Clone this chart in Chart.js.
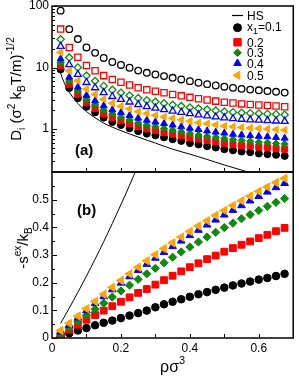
<!DOCTYPE html>
<html><head><meta charset="utf-8">
<script src="https://cdn.jsdelivr.net/npm/chart.js@4.4.1/dist/chart.umd.min.js"></script>
<style>
html,body{margin:0;padding:0;background:#fff;}
#wrap{position:relative;width:299px;height:377px;background:#fff;}
canvas{position:absolute;left:0;top:0;}
</style></head><body>
<div id="wrap"><canvas id="ca" width="299" height="377"></canvas><canvas id="cb" width="299" height="377"></canvas></div>
<script>
// ---------- data ----------
const rho = [0.025,0.05,0.075,0.1,0.125,0.15,0.175,0.2,0.225,0.25,0.275,0.3,0.325,0.35,0.375,0.4,0.425,0.45,0.475,0.5,0.525,0.55,0.575,0.6,0.625,0.65,0.675];

// panel (a): diffusion coefficients, open symbols (second species)
const dOpen01 = [84,42,29,21.2,17.3,14.3,12.3,11.0,9.9,8.9,8.2,7.7,7.25,6.8,6.4,6.0,5.65,5.36,5.1,4.87,4.67,4.5,4.37,4.26,4.14,4.03,3.91];
const dOpen02 = [42.1,21.2,14.7,10.8,8.87,7.38,6.38,5.74,5.20,4.70,4.35,4.11,3.89,3.65,3.46,3.27,3.10,2.96,2.84,2.73,2.64,2.56,2.50,2.46,2.41,2.36,2.30];
const dOpen03 = [28.8,14.5,10.0,7.38,6.04,5.02,4.33,3.89,3.51,3.18,2.94,2.77,2.62,2.47,2.36,2.24,2.15,2.07,1.99,1.93,1.88,1.84,1.81,1.79,1.76,1.74,1.71];
const dOpen04 = [22.1,11.1,7.74,5.70,4.69,3.90,3.38,3.04,2.75,2.49,2.31,2.19,2.07,1.96,1.87,1.78,1.70,1.63,1.57,1.52,1.47,1.44,1.41,1.39,1.37,1.35,1.33];
// panel (a): filled symbols (species 1)
const dFill01 = [9.3,4.63,3.17,2.30,1.86,1.53,1.30,1.16,1.03,0.92,0.84,0.79,0.73,0.68,0.64,0.59,0.56,0.525,0.50,0.47,0.45,0.43,0.42,0.40,0.39,0.38,0.365];
const dFill02 = [10.7,5.33,3.65,2.67,2.16,1.79,1.54,1.36,1.23,1.10,1.01,0.95,0.88,0.83,0.78,0.73,0.69,0.65,0.62,0.59,0.56,0.54,0.53,0.51,0.50,0.48,0.47];
const dFill03 = [12.0,6.0,4.15,3.01,2.46,2.03,1.75,1.56,1.41,1.25,1.16,1.09,1.02,0.96,0.90,0.85,0.80,0.76,0.73,0.70,0.67,0.65,0.63,0.61,0.60,0.58,0.57];
const dFill04 = [13.8,6.93,4.79,3.52,2.87,2.39,2.05,1.85,1.66,1.50,1.39,1.30,1.23,1.16,1.09,1.03,0.98,0.93,0.89,0.86,0.82,0.80,0.78,0.76,0.75,0.73,0.71];
const dFill05 = [17.6,8.82,6.09,4.47,3.67,3.05,2.62,2.35,2.13,1.92,1.78,1.67,1.58,1.49,1.41,1.34,1.27,1.22,1.17,1.12,1.09,1.06,1.04,1.02,1.00,0.98,0.96];
// panel (a): hard-sphere curve
const hsRhoA = [0.02,0.03,0.04,0.05,0.075,0.1,0.15,0.2,0.25,0.3,0.35,0.4,0.45,0.5,0.55,0.6,0.65,0.7];
const hsDA   = [10,6.7,5.0,3.95,2.6,1.92,1.25,0.94,0.74,0.59,0.47,0.39,0.32,0.26,0.215,0.175,0.14,0.115];

// panel (b): excess entropy
const sFill01 = [0.006,0.017,0.027,0.036,0.046,0.055,0.063,0.072,0.081,0.090,0.099,0.111,0.122,0.131,0.140,0.149,0.158,0.166,0.174,0.182,0.190,0.197,0.204,0.211,0.217,0.224,0.232];
const sFill02 = [0.011,0.030,0.048,0.066,0.083,0.099,0.115,0.131,0.147,0.163,0.177,0.193,0.209,0.225,0.241,0.256,0.270,0.285,0.298,0.312,0.325,0.337,0.349,0.361,0.373,0.386,0.398];
const sFill03 = [0.015,0.037,0.060,0.082,0.104,0.126,0.148,0.170,0.191,0.212,0.232,0.252,0.272,0.292,0.311,0.329,0.347,0.365,0.382,0.399,0.415,0.431,0.446,0.461,0.476,0.490,0.504];
const sFill04 = [0.022,0.047,0.073,0.099,0.125,0.150,0.175,0.199,0.222,0.245,0.267,0.289,0.310,0.331,0.351,0.371,0.390,0.409,0.427,0.445,0.462,0.479,0.496,0.512,0.528,0.544,0.559];
const sFill05 = [0.027,0.053,0.079,0.106,0.132,0.158,0.183,0.208,0.232,0.256,0.279,0.301,0.323,0.344,0.365,0.385,0.405,0.424,0.443,0.461,0.479,0.496,0.513,0.530,0.546,0.562,0.577];
const hsRhoB = [0.025,0.05,0.075,0.1,0.125,0.15,0.175,0.2,0.225,0.25];
const hsSB   = [0.053,0.108,0.165,0.224,0.285,0.348,0.414,0.482,0.552,0.625];

// axes / labels
const yTicksA = [1,10,100];
const yMinorA = [0.2,0.3,0.4,0.5,0.6,0.7,0.8,0.9,2,3,4,5,6,7,8,9,20,30,40,50,60,70,80,90];
const yTicksB = [0,0.1,0.2,0.3,0.4,0.5];
const yMinorB = [0.05,0.15,0.25,0.35,0.45,0.55];
const xTicksB = [0,0.2,0.4,0.6];
const xTickLabels = ['0','0.2','0.4','0.6'];
const xSmallTicks = [0.1,0.2,0.3,0.4,0.5,0.6];
const legendLabels = ['0.1','0.2','0.3','0.4','0.5'];

const BLACK='#000000', RED='#ff0000', GREEN='#0b8a0b', BLUE='#0000ff', ORANGE='#ffa500';
const FONT = '"Liberation Sans", Arial, Helvetica, sans-serif';

// ---------- helpers ----------
function pts(xs, ys){ return xs.map((x,i)=>({x:x, y:ys[i]})); }
function drawRich(ctx, parts, x, y, align){
  let w = 0;
  parts.forEach(p=>{ ctx.font=(p.bold?'bold ':'')+p.size+'px '+FONT; p.w=ctx.measureText(p.t).width; w+=p.w; });
  let cx = align==='center' ? x-w/2 : (align==='right' ? x-w : x);
  parts.forEach(p=>{ ctx.font=(p.bold?'bold ':'')+p.size+'px '+FONT; ctx.fillText(p.t, cx, y+(p.dy||0)); cx+=p.w; });
}
function marker(ctx, style, x, y, r, color){
  ctx.save(); ctx.beginPath();
  const s60 = Math.sin(Math.PI/3);
  if (style==='circle') ctx.arc(x,y,r,0,2*Math.PI);
  else if (style==='rect'){ const s=r*Math.SQRT1_2; ctx.rect(x-s,y-s,2*s,2*s); }
  else if (style==='rectRot'){ ctx.moveTo(x,y-r); ctx.lineTo(x+r,y); ctx.lineTo(x,y+r); ctx.lineTo(x-r,y); ctx.closePath(); }
  else if (style==='triangle'){ ctx.moveTo(x,y-r); ctx.lineTo(x+r*s60,y+r/2); ctx.lineTo(x-r*s60,y+r/2); ctx.closePath(); }
  else { ctx.moveTo(x-r,y); ctx.lineTo(x+r/2,y-r*s60); ctx.lineTo(x+r/2,y+r*s60); ctx.closePath(); }
  ctx.fillStyle=color; ctx.fill(); ctx.strokeStyle=color; ctx.lineWidth=1; ctx.stroke();
  ctx.restore();
}

const panelPlugin = {
  id: 'panel',
  afterDraw(chart, args, o){
    const ctx=chart.ctx, a=chart.chartArea, xs=chart.scales.x, ys=chart.scales.y;
    ctx.save();
    ctx.strokeStyle='#000'; ctx.lineWidth=1;
    ctx.beginPath();
    o.xTicks.forEach(v=>{ const p=Math.round(xs.getPixelForValue(v))+0.5; ctx.moveTo(p,a.bottom); ctx.lineTo(p,a.bottom-4); });
    o.yMajor.forEach(v=>{ const p=Math.round(ys.getPixelForValue(v))+0.5; ctx.moveTo(a.left,p); ctx.lineTo(a.left+5,p); });
    o.yMinor.forEach(v=>{ const p=Math.round(ys.getPixelForValue(v))+0.5; ctx.moveTo(a.left,p); ctx.lineTo(a.left+3,p); });
    ctx.stroke();
    ctx.lineWidth=1.5;
    ctx.strokeRect(a.left, a.top, a.right-a.left, a.bottom-a.top);
    ctx.fillStyle='#000'; ctx.textBaseline='alphabetic'; ctx.textAlign='left';
    drawRich(ctx, [{t:o.tag, size:15, bold:true}], o.tagX, o.tagY, 'left');
    if (o.xTitle) drawRich(ctx, o.xTitle, (a.left+a.right)/2, o.xTitleY, 'center');
    ctx.save();
    ctx.translate(o.yTitleX, o.yTitleY); ctx.rotate(-Math.PI/2);
    drawRich(ctx, o.yTitle, 0, 0, 'center');
    ctx.restore();
    if (o.legend){
      // HS line
      ctx.beginPath(); ctx.lineWidth=1.2; ctx.moveTo(232,15.5); ctx.lineTo(243,15.5); ctx.stroke();
      drawRich(ctx, [{t:'HS',size:12}], 247, 19.5, 'left');
      const rows = [[27.7,'circle',BLACK,4],[42.3,'rect',RED,5.2],[52.7,'rectRot',GREEN,3.8],[63.3,'triangle',BLUE,4.4],[75.3,'triLeft',ORANGE,4.6]];
      rows.forEach((r,i)=>{
        marker(ctx, r[1], 237.5, r[0], r[3], r[2]);
        ctx.fillStyle='#000';
        if (i===0) drawRich(ctx, [{t:'x',size:12},{t:'1',size:9,dy:3},{t:'='+legendLabels[0],size:12}], 247, r[0]+3, 'left');
        else drawRich(ctx, [{t:legendLabels[i],size:12}], 247, r[0]+4.3, 'left');
      });
    }
    ctx.restore();
  }
};

function openSet(data, style, color, r, order){
  return {data:data, pointStyle:style, pointRadius:r, pointBorderWidth:1.3, borderColor:color, backgroundColor:'rgba(0,0,0,0)', pointBackgroundColor:'rgba(0,0,0,0)', pointBorderColor:color, showLine:false, order:order};
}
function fillSet(data, style, color, r, order, rot){
  return {data:data, pointStyle:style, pointRotation:rot||0, pointRadius:r, pointBorderWidth:1, borderColor:color, backgroundColor:color, pointBackgroundColor:color, pointBorderColor:color, showLine:false, order:order};
}
function lineSet(data, order){
  return {data:data, showLine:true, pointRadius:0, borderColor:'#000', borderWidth:1, tension:0.35, fill:false, order:order};
}
const tickFont = {family:FONT, size:12};

// ---------- panel (a) ----------
new Chart(document.getElementById('ca'), {
  type:'scatter',
  data:{ datasets:[
    lineSet(pts(hsRhoA, hsDA), 20),
    openSet(pts(rho,dOpen01),'circle',BLACK,3.3,12),
    openSet(pts(rho,dOpen02),'rect',RED,4.4,11),
    openSet(pts(rho,dOpen03),'rectRot',GREEN,3.6,10),
    openSet(pts(rho,dOpen04),'triangle',BLUE,4.0,9),
    fillSet(pts(rho,dFill01),'circle',BLACK,3.5,5),
    fillSet(pts(rho,dFill02),'rect',RED,4.3,4),
    fillSet(pts(rho,dFill03),'rectRot',GREEN,3.6,3),
    fillSet(pts(rho,dFill04),'triangle',BLUE,4.0,2),
    fillSet(pts(rho,dFill05),'triangle',ORANGE,4.2,1,-90)
  ]},
  options:{
    responsive:false, animation:false, devicePixelRatio:1,
    layout:{padding:{top:6,right:2,bottom:205,left:0}},
    plugins:{ legend:{display:false}, tooltip:{enabled:false},
      panel:{ xTicks:xSmallTicks, yMajor:yTicksA, yMinor:yMinorA, tag:'(a)', tagX:75, tagY:155,
        yTitleX:21, yTitleY:89, legend:true,
        yTitle:[{t:'D',size:15},{t:'i',size:10,dy:4},{t:' (\u03c3',size:15},{t:'2',size:10,dy:-6},{t:' k',size:15},{t:'B',size:10,dy:4},{t:'T/m)',size:15},{t:'-1/2',size:10,dy:-7}] } },
    scales:{
      x:{ type:'linear', min:0, max:0.7, display:false },
      y:{ type:'logarithmic', min:0.2, max:100,
        afterFit(s){ s.width=52; s.paddingTop=0; s.paddingBottom=0; },
        afterBuildTicks(s){ s.ticks = yTicksA.map(v=>({value:v})); },
        ticks:{ padding:3, font:tickFont, color:'#000', callback:(v)=>String(v) },
        grid:{display:false, drawTicks:false}, border:{display:false} }
    }
  },
  plugins:[panelPlugin]
});

// ---------- panel (b) ----------
new Chart(document.getElementById('cb'), {
  type:'scatter',
  data:{ datasets:[
    lineSet(pts(hsRhoB, hsSB), 20),
    fillSet(pts(rho,sFill01),'circle',BLACK,3.8,5),
    fillSet(pts(rho,sFill02),'rect',RED,4.8,4),
    fillSet(pts(rho,sFill03),'rectRot',GREEN,4.1,3),
    fillSet(pts(rho,sFill04),'triangle',BLUE,4.4,2),
    fillSet(pts(rho,sFill05),'triangle',ORANGE,4.8,1,-90)
  ]},
  options:{
    responsive:false, animation:false, devicePixelRatio:1,
    layout:{padding:{top:172,right:2,bottom:0,left:0}},
    plugins:{ legend:{display:false}, tooltip:{enabled:false},
      panel:{ xTicks:xSmallTicks, yMajor:yTicksB, yMinor:yMinorB, tag:'(b)', tagX:77, tagY:215,
        yTitleX:28, yTitleY:248,
        yTitle:[{t:'-s',size:15},{t:'ex',size:10,dy:-7},{t:'/k',size:15},{t:'B',size:10,dy:4}],
        xTitle:[{t:'\u03c1\u03c3',size:16},{t:'3',size:11,dy:-8}], xTitleY:372 } },
    scales:{
      x:{ type:'linear', min:0, max:0.7,
        afterFit(s){ s.height=39; s.paddingLeft=0; s.paddingRight=0; },
        afterBuildTicks(s){ s.ticks = xTicksB.map(v=>({value:v})); },
        ticks:{ padding:3, font:tickFont, color:'#000', maxRotation:0, autoSkip:false, callback:(v,i)=>xTickLabels[i] },
        grid:{display:false, drawTicks:false}, border:{display:false} },
      y:{ type:'linear', min:0, max:0.6,
        afterFit(s){ s.width=52; s.paddingTop=0; s.paddingBottom=0; },
        afterBuildTicks(s){ s.ticks = yTicksB.map(v=>({value:v})); },
        ticks:{ padding:3, font:tickFont, color:'#000', callback:(v)=> v===0 ? '0' : v.toFixed(1) },
        grid:{display:false, drawTicks:false}, border:{display:false} }
    }
  },
  plugins:[panelPlugin]
});
</script>
</body></html>
